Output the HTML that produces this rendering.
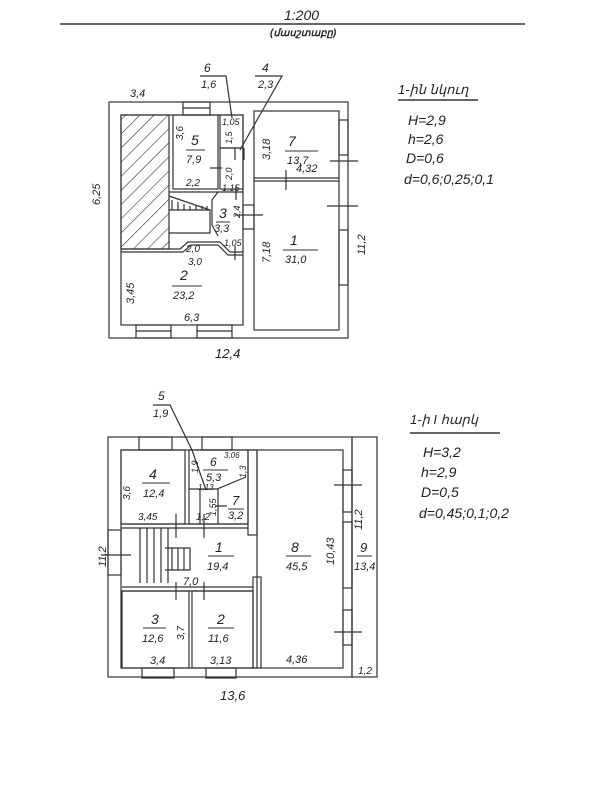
<!DOCTYPE html>
<html><head><meta charset="utf-8"><style>
html,body{margin:0;padding:0;background:#fff;}
svg{display:block;}
text{font-family:"Liberation Sans",sans-serif;font-style:italic;fill:#222;}
</style></head><body>
<svg width="600" height="800" viewBox="0 0 600 800" xmlns="http://www.w3.org/2000/svg">
<defs>
<pattern id="h" width="10" height="10" patternUnits="userSpaceOnUse" patternTransform="rotate(45)">
<line x1="0" y1="0" x2="0" y2="10" stroke="#333" stroke-width="1.2"/></pattern>
</defs>
<g stroke="#333" fill="none" stroke-width="1.2">
<!-- header -->
<line x1="60" y1="24" x2="525" y2="24" stroke-width="1.5"/>
<!-- TOP PLAN -->
<rect x="109" y="102" width="239" height="236"/>
<rect x="121" y="115" width="122" height="210"/>
<rect x="254" y="111" width="85" height="219"/>
<line x1="254" y1="178" x2="339" y2="178"/>
<line x1="254" y1="181" x2="339" y2="181"/>
<rect x="121" y="115" width="48" height="134" fill="url(#h)"/>
<rect x="173" y="115" width="45" height="74"/>
<rect x="220" y="115" width="23" height="33"/>
<rect x="220" y="148" width="23" height="41"/>
<path d="M169 192 H243 M169 210 L210 210 L210 233 L169 233"/>
<path d="M169 196 L210 210"/>
<path d="M172 210 v-10 M178 210 v-8 M184 210 v-6 M190 210 v-4 M196 210 v-4 M202 210 v-4 M207 210 v-4"/>
<path d="M121 249 H180 L188 242 H220 L230 252 H243"/>
<path d="M121 252 H183 L191 245 H218 L228 255 H243"/>
<path d="M218 192 L212 200 V225 L218 236"/>
<!-- windows top -->
<rect x="183" y="102" width="27" height="13"/>
<line x1="183" y1="108" x2="210" y2="108"/>
<rect x="136" y="325" width="35" height="13"/>
<rect x="197" y="325" width="35" height="13"/>
<line x1="136" y1="331" x2="171" y2="331"/><line x1="197" y1="331" x2="232" y2="331"/>
<rect x="339" y="120" width="9" height="35"/>
<rect x="339" y="230" width="9" height="55"/>
<rect x="243" y="205" width="11" height="24"/>
<!-- door ticks -->
<path d="M330 161 H358 M327 206 H358 M286 170 V190 M235 148 V160 M244 148 V160 M210 168 H222 M236 185 V200 M235 215 H263 M235 246 V260"/>
<!-- BOTTOM PLAN -->
<rect x="108" y="437" width="244" height="240"/>
<rect x="352" y="437" width="25" height="240"/>
<rect x="121" y="450" width="222" height="218"/>
<rect x="121" y="450" width="64" height="74"/>
<rect x="189" y="450" width="59" height="74"/>
<rect x="248" y="450" width="9" height="85"/>
<line x1="257" y1="450" x2="257" y2="668"/>
<line x1="121" y1="524" x2="248" y2="524"/><line x1="121" y1="528" x2="248" y2="528"/>
<line x1="122" y1="587" x2="253" y2="587"/><line x1="122" y1="591" x2="253" y2="591"/>
<rect x="122" y="591" width="67" height="77"/>
<rect x="192" y="591" width="61" height="77"/>
<rect x="253" y="577" width="8" height="91"/>
<path d="M189 489 H217 L246 477 M218 489 V524 M200 489 V524"/>
<path d="M140 528 V583 M147 528 V583 M154 528 V583 M161 528 V583 M168 528 V583 M165 548 H190 V570 H165 M172 548 V570 M178 548 V570 M184 548 V570"/>
<!-- windows bottom -->
<rect x="139" y="437" width="33" height="13"/><rect x="202" y="437" width="30" height="13"/>
<rect x="142" y="668" width="32" height="10"/><rect x="206" y="668" width="30" height="10"/>
<rect x="108" y="530" width="13" height="45"/>
<rect x="343" y="470" width="9" height="42"/>
<rect x="343" y="522" width="9" height="66"/>
<rect x="343" y="610" width="9" height="35"/>
<path d="M334 485 H362 M334 632 H362 M101 555 H131 M176 514 V538 M204 514 V538 M176 582 V600 M204 582 V600 M216 506 H227"/>
<!-- leader lines -->
<path d="M200 76 H226 L232 118 M255 76 H282 L240 150"/>
<path d="M153 405 H170 L192 450 L206 490"/>
<path d="M398 100 H478 M410 433 H500" stroke-width="1.5"/>
</g>
<g font-size="11">
<text x="284" y="20" font-size="14">1:200</text>
<text x="270" y="36" font-style="normal" font-weight="bold" font-size="10">(մասշտաբը)</text>
<!-- top labels -->
<text x="130" y="97">3,4</text>
<text x="204" y="72" font-size="12">6</text><text x="201" y="88">1,6</text>
<text x="262" y="72" font-size="12">4</text><text x="258" y="88">2,3</text>
<text x="191" y="145" font-size="14">5</text><line x1="186" y1="150" x2="205" y2="150" stroke="#333"/><text x="186" y="163">7,9</text>
<text x="186" y="186" font-size="10">2,2</text>
<text x="222" y="125" font-size="9">1,05</text>
<text x="288" y="146" font-size="14">7</text><line x1="285" y1="151" x2="318" y2="151" stroke="#333"/><text x="287" y="164">13,7</text>
<text x="296" y="172">4,32</text>
<text x="219" y="218" font-size="14">3</text><line x1="216" y1="222" x2="230" y2="222" stroke="#333"/><text x="214" y="232">3,3</text>
<text x="222" y="191" font-size="9">1,15</text>
<text x="224" y="246" font-size="9">1,05</text>
<text x="186" y="252" font-size="10">2,0</text>
<text x="188" y="265" font-size="10">3,0</text>
<text x="180" y="280" font-size="14">2</text><line x1="172" y1="286" x2="202" y2="286" stroke="#333"/><text x="173" y="299">23,2</text>
<text x="184" y="321">6,3</text>
<text x="290" y="245" font-size="14">1</text><line x1="283" y1="250" x2="318" y2="250" stroke="#333"/><text x="285" y="263">31,0</text>
<text x="215" y="358" font-size="13">12,4</text>
<g transform="translate(100,205) rotate(-90)"><text x="0" y="0">6,25</text></g>
<g transform="translate(134,304) rotate(-90)"><text x="0" y="0">3,45</text></g>
<g transform="translate(183,140) rotate(-90)"><text x="0" y="0" font-size="10">3,6</text></g>
<g transform="translate(270,160) rotate(-90)"><text x="0" y="0">3,18</text></g>
<g transform="translate(270,263) rotate(-90)"><text x="0" y="0">7,18</text></g>
<g transform="translate(365,255) rotate(-90)"><text x="0" y="0">11,2</text></g>
<g transform="translate(232,180) rotate(-90)"><text x="0" y="0" font-size="9">2,0</text></g>
<g transform="translate(240,218) rotate(-90)"><text x="0" y="0" font-size="9">2,4</text></g>
<g transform="translate(232,144) rotate(-90)"><text x="0" y="0" font-size="9">1,5</text></g>
<!-- top legend -->
<text x="398" y="94" font-size="13">1-ին նկուղ</text>
<text x="408" y="125" font-size="14">H=2,9</text>
<text x="408" y="144" font-size="14">h=2,6</text>
<text x="406" y="163" font-size="14">D=0,6</text>
<text x="404" y="184" font-size="14">d=0,6;0,25;0,1</text>
<!-- bottom labels -->
<text x="158" y="400" font-size="12">5</text><text x="153" y="417">1,9</text>
<text x="149" y="479" font-size="14">4</text><line x1="142" y1="483" x2="170" y2="483" stroke="#333"/><text x="143" y="497">12,4</text>
<text x="210" y="466" font-size="12">6</text><line x1="203" y1="470" x2="228" y2="470" stroke="#333"/><text x="206" y="481">5,3</text>
<text x="224" y="458" font-size="8">3,06</text>
<text x="232" y="505" font-size="13">7</text><line x1="228" y1="509" x2="244" y2="509" stroke="#333"/><text x="228" y="519">3,2</text>
<text x="138" y="520" font-size="10">3,45</text>
<text x="196" y="520" font-size="10">1,2</text>
<text x="198" y="490" font-size="8">1,13</text>
<text x="215" y="552" font-size="14">1</text><line x1="208" y1="556" x2="234" y2="556" stroke="#333"/><text x="207" y="570">19,4</text>
<text x="183" y="585" font-size="11">7,0</text>
<text x="291" y="552" font-size="14">8</text><line x1="286" y1="556" x2="311" y2="556" stroke="#333"/><text x="286" y="570">45,5</text>
<text x="360" y="552" font-size="13">9</text><line x1="357" y1="556" x2="372" y2="556" stroke="#333"/><text x="354" y="570">13,4</text>
<text x="151" y="624" font-size="14">3</text><line x1="143" y1="628" x2="166" y2="628" stroke="#333"/><text x="142" y="642">12,6</text>
<text x="217" y="624" font-size="14">2</text><line x1="208" y1="628" x2="234" y2="628" stroke="#333"/><text x="208" y="642">11,6</text>
<text x="150" y="664">3,4</text><text x="210" y="664">3,13</text><text x="286" y="663">4,36</text>
<text x="358" y="674" font-size="10">1,2</text>
<text x="220" y="700" font-size="13">13,6</text>
<g transform="translate(106,567) rotate(-90)"><text x="0" y="0">11,2</text></g>
<g transform="translate(334,565) rotate(-90)"><text x="0" y="0">10,43</text></g>
<g transform="translate(362,530) rotate(-90)"><text x="0" y="0">11,2</text></g>
<g transform="translate(184,640) rotate(-90)"><text x="0" y="0" font-size="10">3,7</text></g>
<g transform="translate(130,500) rotate(-90)"><text x="0" y="0" font-size="10">3,6</text></g>
<g transform="translate(198,473) rotate(-90)"><text x="0" y="0" font-size="9">1,9</text></g>
<g transform="translate(246,478) rotate(-90)"><text x="0" y="0" font-size="9">1,3</text></g>
<g transform="translate(216,516) rotate(-90)"><text x="0" y="0" font-size="9">1,55</text></g>
<!-- bottom legend -->
<text x="410" y="424" font-size="13">1-ի I հարկ</text>
<text x="423" y="457" font-size="14">H=3,2</text>
<text x="421" y="477" font-size="14">h=2,9</text>
<text x="421" y="497" font-size="14">D=0,5</text>
<text x="419" y="518" font-size="14">d=0,45;0,1;0,2</text>
</g>
</svg>
</body></html>
